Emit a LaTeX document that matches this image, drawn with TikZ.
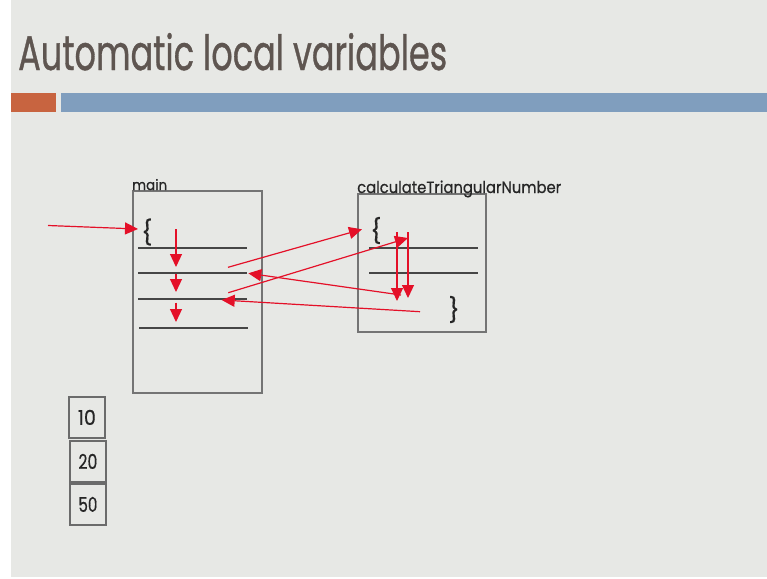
\documentclass[tikz,border=0pt]{standalone}
\usepackage{fontspec}
\setmainfont{Poppins}[FakeBold=0.5]
\newfontfamily\titlefont{Poppins}[FakeBold=0.9]
\usetikzlibrary{arrows.meta}
\definecolor{slidebg}{RGB}{231,232,229}
\definecolor{titlebrown}{RGB}{94,85,80}
\definecolor{accentorange}{RGB}{200,100,64}
\definecolor{accentblue}{RGB}{128,158,190}
\definecolor{flowred}{RGB}{228,16,40}
\definecolor{inkgray}{RGB}{70,70,70}
\begin{document}
\begin{tikzpicture}[x=1pt,y=-1pt,
  frame/.style={draw=inkgray!75, line width=1.8pt, inner sep=0pt, anchor=north west},
  stmt/.style={draw=inkgray, line width=1.8pt},
  flow/.style={draw=flowred, line width=1.2pt, -{Triangle[length=13pt,width=12pt]}},
  brace/.style={inner sep=0pt, text=black!85},
  label/.style={inner sep=0pt, anchor=base west, text=black!85},
  valbox/.style={draw=inkgray!80, line width=1.8pt, inner sep=0pt, minimum width=36pt, minimum height=41pt, anchor=north west, text=black!85}]
\useasboundingbox (0,0) rectangle (767,578);
\fill[white] (0,0) rectangle (767,578);
\fill[slidebg] (11,0) rectangle (767,577);

% title and accent bar
\node[anchor=base west, inner sep=0pt, text=titlebrown] (title) at (18,70)
  {\titlefont\resizebox{429pt}{37pt}{Automatic local variables}};
\fill[accentorange] (11,93) rectangle (56,112);
\fill[accentblue] (61,93) rectangle (767,112);

% frame of main
\node[frame, minimum width=129pt, minimum height=202pt] (main) at (132,190) {};
\node[label] (mainlbl) at (main.north west) {\resizebox{35pt}{11pt}{main}};
\node[brace] (mopen) at (147,232) {\fontsize{24}{24}\selectfont\{};
\draw[stmt] (138,248) -- (247,248);
\draw[stmt] (138,273) -- (247,273);
\draw[stmt] (138,299) -- (247,299);
\draw[stmt] (139,328) -- (248,328);

% frame of calculateTriangularNumber
\node[frame, minimum width=128pt, minimum height=138pt] (calc) at (357,193) {};
\node[label] (calclbl) at (calc.north west) {\resizebox{204pt}{12.5pt}{calculateTriangularNumber}};
\node[brace] (copen) at (376,230.5) {\fontsize{24}{24}\selectfont\{};
\node[brace] (cclose) at (454,309.5) {\fontsize{24}{24}\selectfont\}};
\draw[stmt] (369,248) -- (478,248);
\draw[stmt] (369,273) -- (478,273);

% value boxes
\node[valbox] (v10) at (68,396) {\resizebox{18pt}{15pt}{10}};
\node[valbox] (v20) at (69,440) {\resizebox{19pt}{15pt}{20}};
\node[valbox] (v50) at (69,483) {\resizebox{19pt}{15pt}{50}};

% control flow
\coordinate (entry) at (48,225.5);
\coordinate (mtop) at (138,229);
\coordinate (s1a) at (176,229);   \coordinate (s1b) at (176,267);
\coordinate (s2a) at (176,274);   \coordinate (s2b) at (176,292);
\coordinate (s3a) at (176,302.5); \coordinate (s3b) at (176,322);
\coordinate (call1) at (228,267.3); \coordinate (ctop1) at (362,229.3);
\coordinate (call2) at (228.3,292.7); \coordinate (ctop2) at (408,238);
\coordinate (d1a) at (397,232);   \coordinate (d1b) at (397,301);
\coordinate (d2a) at (408,232);   \coordinate (d2b) at (408,298);
\coordinate (ret1) at (401,295);  \coordinate (back1) at (248.3,273.3);
\coordinate (ret2) at (420,311.7); \coordinate (back2) at (221.7,300);

\draw[flow] (entry) -- (mtop);
\draw[flow] (s1a) -- (s1b);
\draw[flow] (s2a) -- (s2b);
\draw[flow] (s3a) -- (s3b);
\draw[flow] (call1) -- (ctop1);
\draw[flow] (call2) -- (ctop2);
\draw[flow] (d1a) -- (d1b);
\draw[flow] (d2a) -- (d2b);
\draw[flow] (ret1) -- (back1);
\draw[flow] (ret2) -- (back2);
\end{tikzpicture}
\end{document}
